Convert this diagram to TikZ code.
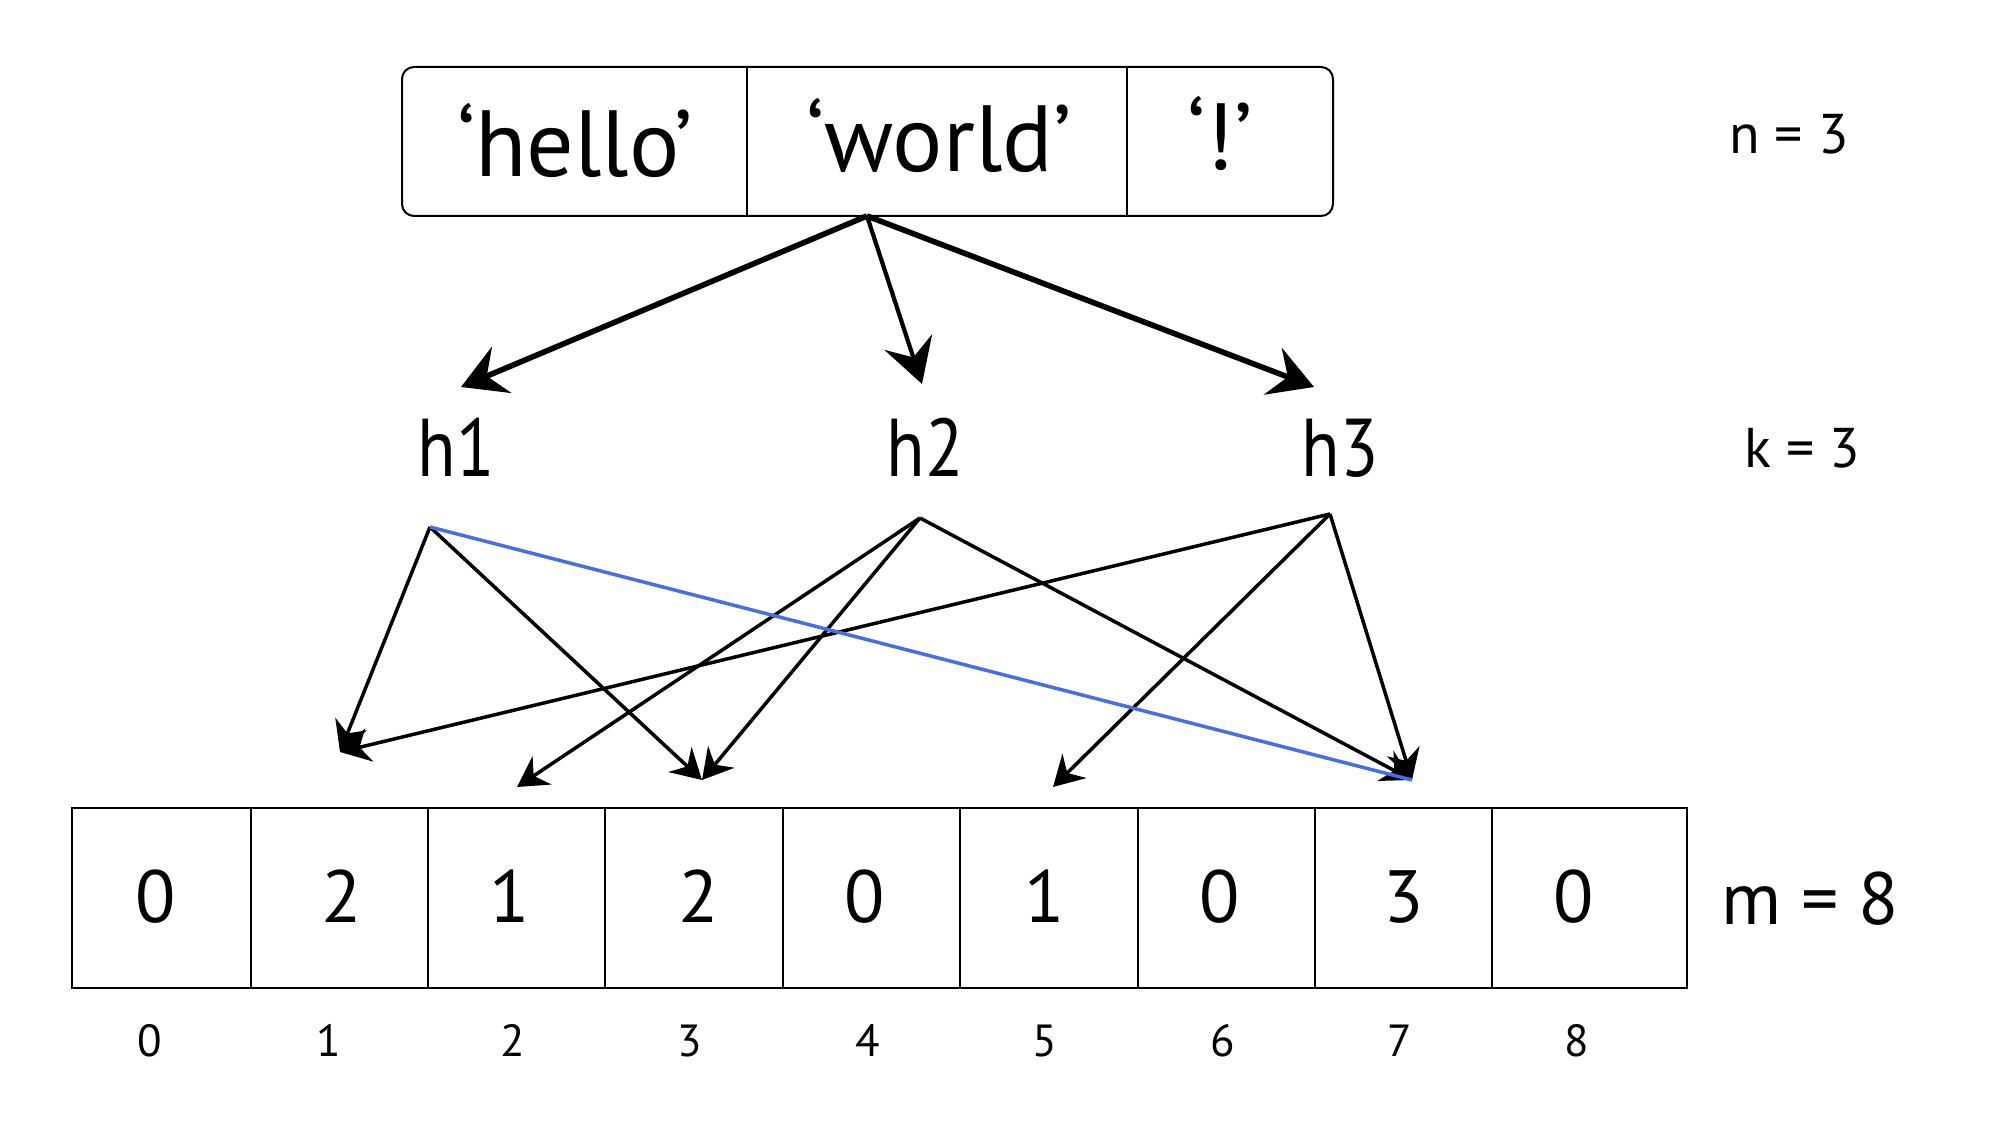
\documentclass[tikz,border=0pt]{standalone}
\usepackage{fontspec}
\setmainfont{PT Sans}
\newfontfamily\narrowfont{PT Sans}[FakeStretch=0.86]
\usetikzlibrary{arrows.meta}
\definecolor{lineblue}{RGB}{70,110,232}
\tikzset{
  bigarrow/.style={line width=2.8pt, -{Stealth[length=22pt,width=25pt,inset=8pt]}},
  midarrow/.style={line width=2.1pt, -{Stealth[length=22pt,width=25pt,inset=8pt]}},
  smallarrow/.style={line width=1.75pt, -{Stealth[length=15pt,width=17pt,inset=5pt]}},
  blueline/.style={line width=1.75pt, draw=lineblue},
  frame/.style={line width=1pt},
  txt/.style={inner sep=0pt, anchor=base},
  bigtxt/.style={txt, font=\fontsize{47}{50}\selectfont},
  htxt/.style={txt, font=\narrowfont\fontsize{41}{44}\selectfont},
  eqtxt/.style={txt, font=\fontsize{28}{32}\selectfont},
  celltxt/.style={txt, font=\fontsize{37}{40}\selectfont},
  idxtxt/.style={txt, font=\fontsize{22.5}{26}\selectfont},
}
\begin{document}
\begin{tikzpicture}[x=0.5pt,y=-0.5pt]
\useasboundingbox (0,0) rectangle (2010,1122);
% top box
\draw[frame, rounded corners=6pt] (402,67) rectangle (1333,216);
\draw[frame] (747,67) -- (747,216);
\draw[frame] (1127,67) -- (1127,216);
\node[bigtxt] (hello) at (575,177) {‘hello’};
\node[bigtxt] (world) at (939,172) {‘world’};
\node[bigtxt] (excl) at (1220,170) {‘!’};
\node[eqtxt] (n) at (1789,154) {n = 3};
% hash labels
\node[htxt] (h1) at (456,477) {h1};
\node[htxt] (h2) at (925,477) {h2};
\node[htxt] (h3) at (1340,477) {h3};
\node[eqtxt] (k) at (1802,468) {k = 3};
% arrows from the word box
\coordinate (src) at (867,216);
\coordinate (t1) at (461,387);
\coordinate (t2) at (922,384);
\coordinate (t3) at (1314,387);
\draw[bigarrow] (src) -- (t1);
\draw[midarrow] (src) -- (t2);
\draw[bigarrow] (src) -- (t3);
% bit array
\draw[frame] (72,808) rectangle (1687,988);
\foreach \xx in {251,428,605,783,960,1138,1315,1492}
  \draw[frame] (\xx,808) -- (\xx,988);
\node[celltxt] (v0) at (156,922) {0};
\node[celltxt] (v1) at (342,922) {2};
\node[celltxt] (v2) at (510,922) {1};
\node[celltxt] (v3) at (699,922) {2};
\node[celltxt] (v4) at (865,922) {0};
\node[celltxt] (v5) at (1045,922) {1};
\node[celltxt] (v6) at (1220,922) {0};
\node[celltxt] (v7) at (1404,922) {3};
\node[celltxt] (v8) at (1574,922) {0};
\node[celltxt] (m) at (1810,925) {m = 8};
\node[idxtxt] (i0) at (150,1056) {0};
\node[idxtxt] (i1) at (329,1056) {1};
\node[idxtxt] (i2) at (513,1056) {2};
\node[idxtxt] (i3) at (690,1056) {3};
\node[idxtxt] (i4) at (868,1056) {4};
\node[idxtxt] (i5) at (1045,1056) {5};
\node[idxtxt] (i6) at (1223,1056) {6};
\node[idxtxt] (i7) at (1400,1056) {7};
\node[idxtxt] (i8) at (1577,1056) {8};
% hash arrows
\coordinate (h1o) at (430,527);
\coordinate (h2o) at (920,518);
\coordinate (h3o) at (1330,514);
\coordinate (a1) at (340,752);
\coordinate (a2) at (517,787);
\coordinate (a3) at (702,780);
\coordinate (a5) at (1053,787);
\coordinate (a7) at (1412,780);
\draw[smallarrow] (h1o) -- (a1);
\draw[smallarrow] (h1o) -- (a3);
\draw[smallarrow] (h2o) -- (a2);
\draw[smallarrow] (h2o) -- (a3);
\draw[smallarrow] (h2o) -- (a7);
\draw[smallarrow] (h3o) -- (a1);
\draw[smallarrow] (h3o) -- (a5);
\draw[smallarrow] (h3o) -- (a7);
\draw[blueline] (h1o) -- (a7);
\end{tikzpicture}
\end{document}
